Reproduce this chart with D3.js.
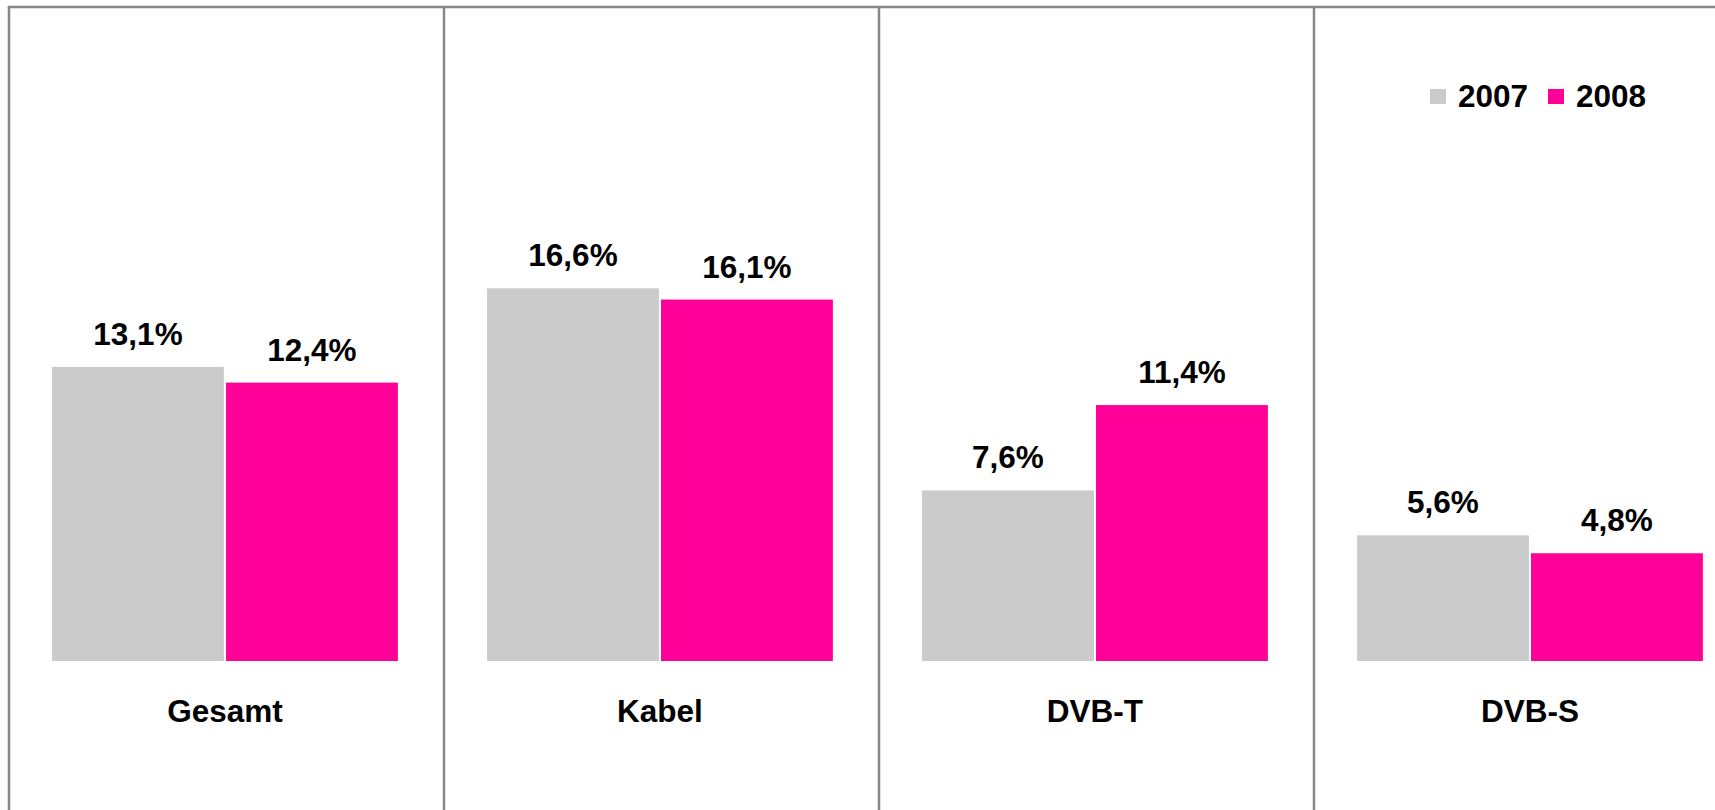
<!DOCTYPE html>
<meta charset="utf-8">
<style>
body { margin: 0; background: #fff; }
.value-text, .cat-text, .legend-text {
  font-family: "Liberation Sans", Arial, sans-serif;
  font-weight: bold;
  font-size: 31.5px;
  fill: #000;
}
.panel-line {
  stroke: #888;
  stroke-width: 2.5;
}
</style>
<body>
<script src="https://cdn.jsdelivr.net/npm/d3@7"></script>
<script>

// data
var categories = ["Gesamt", "Kabel", "DVB-T", "DVB-S"];
var years = ["2007", "2008"];
var values2007 = [13.1, 16.6, 7.6, 5.6];
var values2008 = [12.4, 16.1, 11.4, 4.8];
var valueLabels2007 = ["13,1%", "16,6%", "7,6%", "5,6%"];
var valueLabels2008 = ["12,4%", "16,1%", "11,4%", "4,8%"];
var colors = ["#cbcbcb", "#ff0099"];

var width = 1715, height = 810;

var svg = d3.select("body").append("svg")
    .attr("width", width)
    .attr("height", height);

var rows = categories.map(function(c, i) {
  return {
    cat: c,
    vals: [
      {year: years[0], v: values2007[i], label: valueLabels2007[i]},
      {year: years[1], v: values2008[i], label: valueLabels2008[i]}
    ]
  };
});

// scales -- panel step is 435px, frame starts at x=9
var step = 435, pIn = 0.205, pOut = 0.099;
var x0 = d3.scaleBand()
    .domain(categories)
    .range([9, 9 + step * (categories.length - pIn + 2 * pOut)])
    .paddingInner(pIn)
    .paddingOuter(pOut);

var x1 = d3.scaleBand()
    .domain(years)
    .range([0, x0.bandwidth()])
    .paddingInner(0.012);

var y = d3.scaleLinear()
    .domain([0, 20])
    .range([661, 212]);

var color = d3.scaleOrdinal()
    .domain(years)
    .range(colors);

// panel frame
svg.append("line")
    .attr("class", "panel-line")
    .attr("x1", 9 - 1.25).attr("x2", width)
    .attr("y1", 7).attr("y2", 7);

svg.selectAll(".vline")
  .data(d3.range(categories.length))
  .enter().append("line")
    .attr("class", "panel-line vline")
    .attr("x1", function(i) { return 9 + i * step; })
    .attr("x2", function(i) { return 9 + i * step; })
    .attr("y1", 7)
    .attr("y2", height);

// bars
var groups = svg.selectAll(".group")
  .data(rows)
  .enter().append("g")
    .attr("class", "group")
    .attr("transform", function(d) { return "translate(" + x0(d.cat) + ",0)"; });

groups.selectAll("rect")
  .data(function(d) { return d.vals; })
  .enter().append("rect")
    .attr("x", function(d) { return x1(d.year); })
    .attr("width", x1.bandwidth())
    .attr("y", function(d) { return y(d.v); })
    .attr("height", function(d) { return y(0) - y(d.v); })
    .attr("fill", function(d) { return color(d.year); });

groups.selectAll(".value-text")
  .data(function(d) { return d.vals; })
  .enter().append("text")
    .attr("class", "value-text")
    .attr("text-anchor", "middle")
    .attr("x", function(d) { return x1(d.year) + x1.bandwidth() / 2; })
    .attr("y", function(d) { return y(d.v) - 22; })
    .text(function(d) { return d.label; });

groups.append("text")
    .attr("class", "cat-text")
    .attr("text-anchor", "middle")
    .attr("x", x0.bandwidth() / 2)
    .attr("y", 722)
    .text(function(d) { return d.cat; });

// legend
var legend = svg.append("g")
    .attr("transform", "translate(1430,0)");

var lg = legend.selectAll(".lg")
  .data(years)
  .enter().append("g")
    .attr("class", "lg")
    .attr("transform", function(d, i) { return "translate(" + (i * 118) + ",0)"; });

lg.append("rect")
    .attr("y", 89)
    .attr("width", 16)
    .attr("height", 15)
    .attr("fill", function(d) { return color(d); });

lg.append("text")
    .attr("class", "legend-text")
    .attr("x", 28)
    .attr("y", 107)
    .text(function(d) { return d; });

</script>
</body>
